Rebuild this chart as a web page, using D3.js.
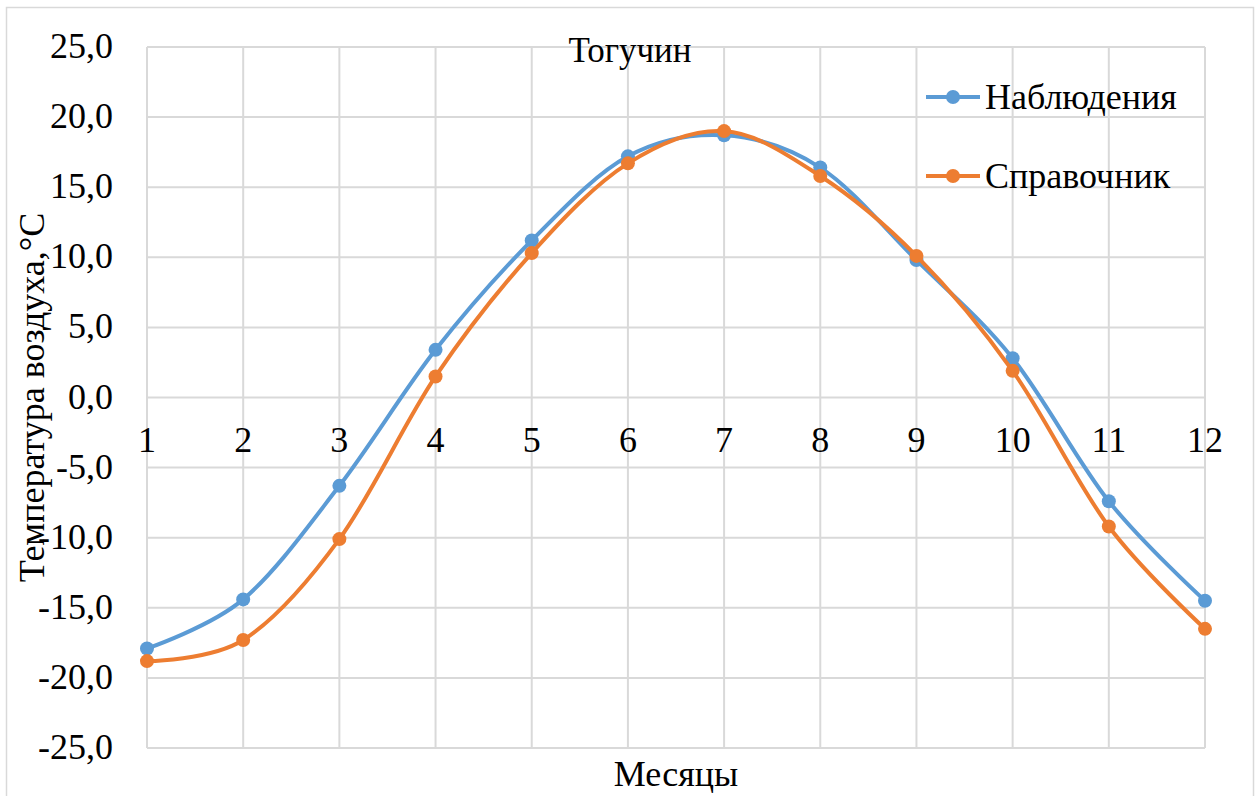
<!DOCTYPE html>
<html>
<head>
<meta charset="utf-8">
<script src="https://cdn.jsdelivr.net/npm/d3@7"></script>
<style>
  body { margin: 0; background: #fff; }
</style>
</head>
<body>
<svg id="chart" width="1258" height="796"></svg>
<script>
// data
let months = [1, 2, 3, 4, 5, 6, 7, 8, 9, 10, 11, 12]
let observed = [-17.9, -14.4, -6.3, 3.4, 11.2, 17.2, 18.7, 16.4, 9.8, 2.8, -7.4, -14.5]
let reference = [-18.8, -17.3, -10.1, 1.5, 10.3, 16.7, 19.0, 15.8, 10.1, 1.9, -9.2, -16.5]
let yTicks = [-25, -20, -15, -10, -5, 0, 5, 10, 15, 20, 25]
let seriesNames = ["Наблюдения", "Справочник"]
let colors = ["#5b9bd5", "#ed7d31"]

let serif = "Liberation Serif"

let svg = d3.select("#chart")

// outer chart border
svg.append("rect")
  .attr("x", 6.5).attr("y", 7.5)
  .attr("width", 1247).attr("height", 795)
  .attr("fill", "none").attr("stroke", "#d9d9d9").attr("stroke-width", 1.5)

let x = d3.scaleLinear().domain([1, 12]).range([147, 1205])
let y = d3.scaleLinear().domain([-25, 25]).range([748, 47])

let grid = "#d9d9d9"

// horizontal gridlines
svg.append("g").selectAll("line")
  .data(yTicks).enter().append("line")
  .attr("x1", x(1)).attr("x2", x(12))
  .attr("y1", d => y(d)).attr("y2", d => y(d))
  .attr("stroke", grid).attr("stroke-width", 2)

// vertical gridlines
svg.append("g").selectAll("line")
  .data(months).enter().append("line")
  .attr("x1", d => x(d)).attr("x2", d => x(d))
  .attr("y1", y(25)).attr("y2", y(-25))
  .attr("stroke", grid).attr("stroke-width", 2)

// y tick labels
let fmt = v => d3.format(".1f")(v).replace(".", ",").replace("−", "-")
svg.append("g").selectAll("text")
  .data(yTicks).enter().append("text")
  .attr("x", 113).attr("y", d => y(d) + 11)
  .attr("text-anchor", "end")
  .style("font-family", serif)
  .style("font-size", "36px")
  .text(d => fmt(d))

// x tick labels (axis crosses at 0)
svg.append("g").selectAll("text")
  .data(months).enter().append("text")
  .attr("x", d => x(d)).attr("y", y(0) + 54)
  .attr("text-anchor", "middle")
  .style("font-family", serif)
  .style("font-size", "36px")
  .text(d => d)

// titles
svg.append("text").attr("x", 630).attr("y", 62)
  .attr("text-anchor", "middle").style("font-family", serif)
  .style("font-size", "35px").text("Тогучин")
svg.append("text").attr("x", 676).attr("y", 786)
  .attr("text-anchor", "middle").style("font-family", serif)
  .style("font-size", "36px").text("Месяцы")
svg.append("text")
  .attr("transform", "translate(44," + y(0) + ") rotate(-90)")
  .attr("text-anchor", "middle").style("font-family", serif)
  .style("font-size", "36px")
  .text("Температура  воздуха,°С")

// series
let line = d3.line()
  .x((d, i) => x(months[i]))
  .y(d => y(d))
  .curve(d3.curveCatmullRom.alpha(0))

let series = [observed, reference]
series.forEach((vals, k) => {
  svg.append("path")
    .datum(vals)
    .attr("d", line)
    .attr("fill", "none")
    .attr("stroke", colors[k])
    .attr("stroke-width", 4)
    .attr("stroke-linecap", "round")
  svg.append("g").selectAll("circle")
    .data(vals).enter().append("circle")
    .attr("cx", (d, i) => x(months[i]))
    .attr("cy", d => y(d))
    .attr("r", 7)
    .attr("fill", colors[k])
})

// legend
let legendY = [97, 176]
seriesNames.forEach((name, k) => {
  let g = svg.append("g")
  g.append("line")
    .attr("x1", 926).attr("x2", 980)
    .attr("y1", legendY[k]).attr("y2", legendY[k])
    .attr("stroke", colors[k]).attr("stroke-width", 4)
  g.append("circle")
    .attr("cx", 953).attr("cy", legendY[k]).attr("r", 7)
    .attr("fill", colors[k])
  g.append("text")
    .attr("x", 985).attr("y", legendY[k] + 12)
    .style("font-family", serif)
    .style("font-size", "36px")
    .text(name)
})
</script>
</body>
</html>
